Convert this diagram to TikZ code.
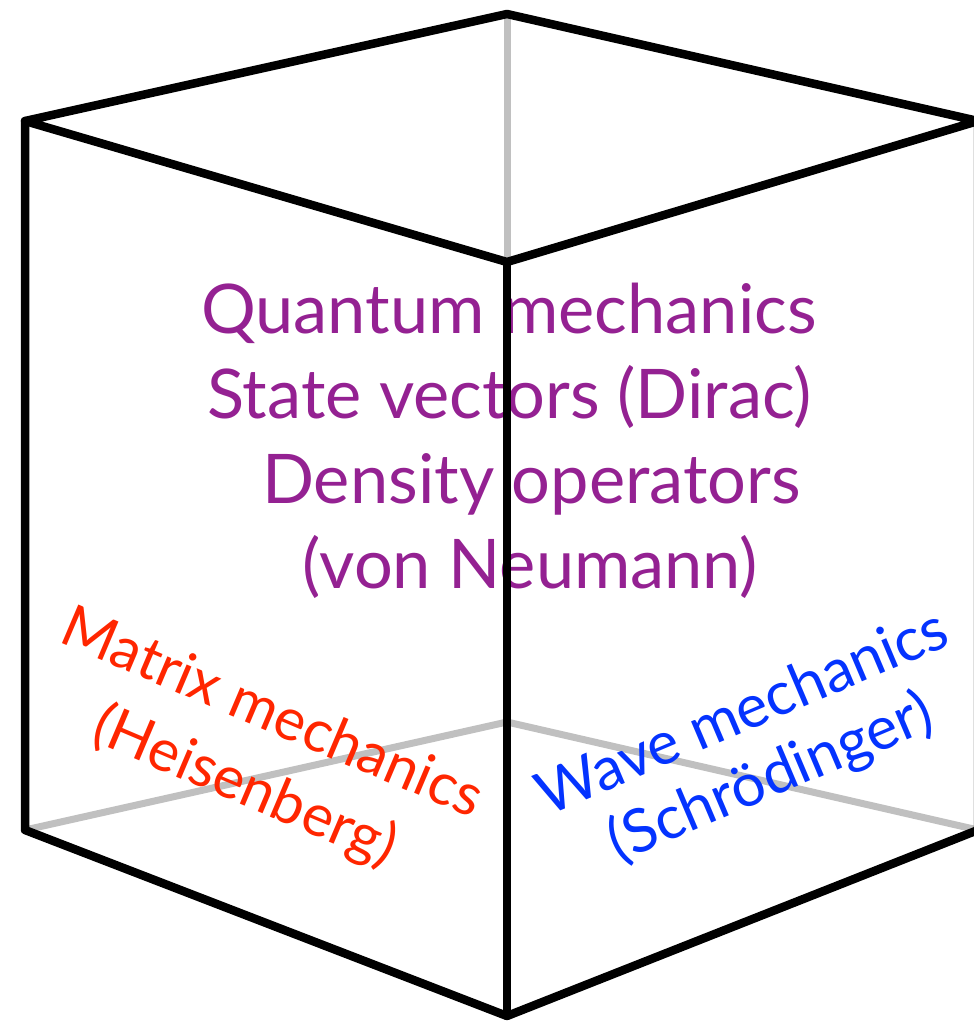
\documentclass[tikz,border=0pt]{standalone}
\usepackage{fontspec}
\setmainfont{Lato}
\definecolor{plum}{RGB}{148,33,146}
\definecolor{kred}{RGB}{255,38,0}
\definecolor{kblue}{RGB}{4,51,255}
\definecolor{backgray}{RGB}{192,192,192}
\tikzset{
  frontedge/.style={line width=8.5pt, black, line cap=round, line join=round},
  backedge/.style={line width=7pt, backgray, line cap=butt},
  qmtext/.style={inner sep=0pt, anchor=base, text=plum, font=\fontsize{68.5}{80}\selectfont},
  mattext/.style={inner sep=0pt, anchor=base, text=kred, rotate=-23, font=\fontsize{58.5}{70}\selectfont},
  wavetext/.style={inner sep=0pt, anchor=base, text=kblue, rotate=23, font=\fontsize{60}{70}\selectfont}
}
\begin{document}
\begin{tikzpicture}[x=1pt,y=-1pt]
\useasboundingbox (0,0) rectangle (974,1021);
% corners
\coordinate (TB) at (507,14);
\coordinate (TL) at (25,121);
\coordinate (TF) at (507,262);
\coordinate (TR) at (978,121);
\coordinate (BL) at (25,830);
\coordinate (BF) at (507,1016);
\coordinate (BR) at (978,830);
\coordinate (BB) at (507,722);
% hidden edges
\draw[backedge] (TB) -- (TF);
\draw[backedge] (BL) -- (BB) -- (BR);
% texts
\node[qmtext] (q1) at (509,333) {Quantum mechanics};
\node[qmtext] (q2) at (509.5,418) {State vectors (Dirac)};
\node[qmtext] (q3) at (531.5,503) {Density operators};
\node[qmtext] (q4) at (530.5,588) {(von Neumann)};
\node[mattext] (m1) at (265,730) {Matrix mechanics};
\node[mattext] (m2) at (238,803) {(Heisenberg)};
\node[wavetext] (w1) at (750,730) {Wave mechanics};
\node[wavetext] (w2) at (778,795) {(Schrödinger)};
% visible edges
\draw[frontedge] (TL) -- (TB) -- (TR) -- (TF) -- cycle;
\draw[frontedge] (TL) -- (BL) -- (BF) -- (BR) -- (TR);
\draw[frontedge] (TF) -- (BF);
\end{tikzpicture}
\end{document}
